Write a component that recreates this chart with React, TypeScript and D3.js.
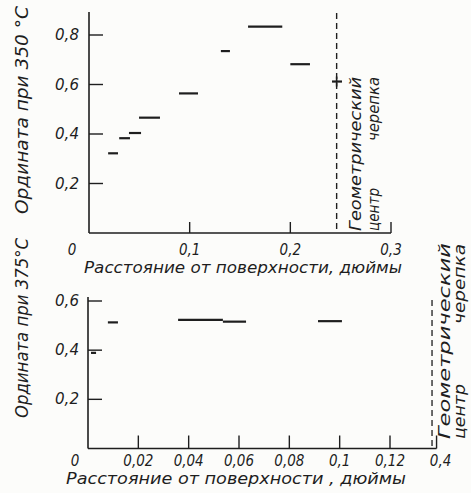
import React from "react";
import * as d3 from "d3";

// ---- Top chart (350 °C) data ----
const topStart = [0.019, 0.03, 0.0397, 0.0497, 0.0894, 0.131, 0.158, 0.2, 0.2414];
const topEnd = [0.0288, 0.0407, 0.0517, 0.0705, 0.1083, 0.14, 0.192, 0.2195, 0.2513];
const topValue = [0.322, 0.383, 0.404, 0.466, 0.564, 0.735, 0.834, 0.682, 0.612];
const topXTicks = [0.1, 0.2, 0.3];
const topXTickLabels = ["0,1", "0,2", "0,3"];
const topYTicks = [0.2, 0.4, 0.6, 0.8];
const topYTickLabels = ["0,2", "0,4", "0,6", "0,8"];
const topCenter = 0.246;

// ---- Bottom chart (375 °C) data ----
const botStart = [0.0079, 0.0012, 0.0358, 0.0536, 0.0914];
const botEnd = [0.0119, 0.0032, 0.0536, 0.0628, 0.1009];
const botValue = [0.513, 0.389, 0.523, 0.516, 0.518];
const botXTicks = [0.02, 0.04, 0.06, 0.08, 0.1, 0.12, 0.1385];
const botXTickLabels = ["0,02", "0,04", "0,06", "0,08", "0,1", "0,12", "0,4"];
const botYTicks = [0.2, 0.4, 0.6];
const botYTickLabels = ["0,2", "0,4", "0,6"];
const botCenter = 0.1367;

const yLabelTop = "Ордината при 350 °С";
const yLabelBot = "Ордината при 375°С";
const xLabelTop = "Расстояние от поверхности, дюймы";
const xLabelBot = "Расстояние от поверхности , дюймы";
const centerLine1 = "Геометрический";
const centerWord1 = "центр";
const centerWord2 = "черепка";

const FONT = "'DejaVu Sans Condensed', 'Liberation Sans Narrow', 'DejaVu Sans', sans-serif";
const INK = "#1e1e1e";

export default function App() {
  const xT = d3.scaleLinear().domain([0, 0.3]).range([89, 391]);
  const yT = d3.scaleLinear().domain([0, 0.8]).range([233, 35]);
  const xB = d3.scaleLinear().domain([0, 0.12]).range([88, 390]);
  const yB = d3.scaleLinear().domain([0, 0.6]).range([448.5, 301]);

  const txt = { fontFamily: FONT, fontStyle: "italic", fill: INK } as const;
  const fit = { lengthAdjust: "spacingAndGlyphs" } as const;

  const tY0 = yT(0);
  const bY0 = yB(0);

  return (
    <svg
      width={471}
      height={493}
      style={{ position: "absolute", left: 0, top: 0, background: "#fcfcfa" }}
    >
      {/* ===== TOP CHART ===== */}
      <g stroke={INK} fill="none">
        <line x1={xT(0)} x2={xT(0)} y1={12} y2={tY0} strokeWidth={1.6} />
        <line x1={xT(0)} x2={xT(0.3)} y1={tY0} y2={tY0} strokeWidth={1.6} />
        {topYTicks.map((t) => (
          <line key={t} x1={xT(0)} x2={xT(0) + 14} y1={yT(t)} y2={yT(t)} strokeWidth={1.4} />
        ))}
        {topXTicks.map((t) => (
          <line key={t} x1={xT(t)} x2={xT(t)} y1={tY0} y2={tY0 - 11} strokeWidth={1.4} />
        ))}
        <line
          x1={xT(topCenter)}
          x2={xT(topCenter)}
          y1={13}
          y2={tY0}
          strokeWidth={1.4}
          strokeDasharray="6,4"
        />
        <line
          x1={xT(topCenter)}
          x2={xT(topCenter)}
          y1={yT(0.612) - 5}
          y2={yT(0.612) + 5}
          strokeWidth={1.6}
        />
        {topValue.map((v, i) => (
          <line
            key={i}
            x1={xT(topStart[i])}
            x2={xT(topEnd[i])}
            y1={yT(v)}
            y2={yT(v)}
            strokeWidth={2.2}
          />
        ))}
      </g>
      <g {...txt} fontSize={15}>
        {topYTicks.map((t, i) => (
          <text key={t} x={79} y={yT(t) + 5} textAnchor="end" textLength={24} {...fit}>
            {topYTickLabels[i]}
          </text>
        ))}
        <text x={72} y={255} textAnchor="middle">0</text>
        {topXTicks.map((t, i) => (
          <text key={t} x={xT(t)} y={255} textAnchor="middle">
            {topXTickLabels[i]}
          </text>
        ))}
      </g>
      <text {...txt} fontSize={16} x={84} y={273} textLength={318} {...fit}>
        {xLabelTop}
      </text>
      <text
        {...txt}
        fontSize={17}
        transform={`translate(28, 214) rotate(-90)`}
        textLength={208}
        {...fit}
      >
        {yLabelTop}
      </text>
      <g {...txt} fontSize={16}>
        <text transform={`translate(361, 231) rotate(-90)`} textLength={154} {...fit}>
          {centerLine1}
        </text>
        <text transform={`translate(379, 231) rotate(-90)`} textLength={43} {...fit}>
          {centerWord1}
        </text>
        <text transform={`translate(379, 141) rotate(-90)`} textLength={64} {...fit}>
          {centerWord2}
        </text>
      </g>

      {/* ===== BOTTOM CHART ===== */}
      <g stroke={INK} fill="none">
        <line x1={xB(0)} x2={xB(0)} y1={297} y2={bY0} strokeWidth={1.6} />
        <line x1={xB(0)} x2={xB(0.1385)} y1={bY0} y2={bY0} strokeWidth={1.6} />
        {botYTicks.map((t) => (
          <line key={t} x1={xB(0)} x2={xB(0) + 14} y1={yB(t)} y2={yB(t)} strokeWidth={1.4} />
        ))}
        {botXTicks.map((t) => (
          <line key={t} x1={xB(t)} x2={xB(t)} y1={bY0} y2={bY0 - 13} strokeWidth={1.4} />
        ))}
        <line
          x1={xB(botCenter)}
          x2={xB(botCenter)}
          y1={300}
          y2={bY0}
          strokeWidth={1.3}
          strokeDasharray="6,4"
        />
        {botValue.map((v, i) => (
          <line
            key={i}
            x1={xB(botStart[i])}
            x2={xB(botEnd[i])}
            y1={yB(v)}
            y2={yB(v)}
            strokeWidth={2.2}
          />
        ))}
      </g>
      <g {...txt} fontSize={15}>
        {botYTicks.map((t, i) => (
          <text key={t} x={79} y={yB(t) + 5} textAnchor="end" textLength={24} {...fit}>
            {botYTickLabels[i]}
          </text>
        ))}
        <text x={75} y={466} textAnchor="middle">0</text>
        {botXTicks.map((t, i) => (
          <text key={t} x={xB(t) + (i === botXTicks.length - 1 ? 4 : 0)} y={466} textAnchor="middle">
            {botXTickLabels[i]}
          </text>
        ))}
      </g>
      <text {...txt} fontSize={16} x={66} y={484} textLength={340} {...fit}>
        {xLabelBot}
      </text>
      <text
        {...txt}
        fontSize={17}
        transform={`translate(28, 418) rotate(-90)`}
        textLength={180}
        {...fit}
      >
        {yLabelBot}
      </text>
      <g {...txt} fontSize={15}>
        <text transform={`translate(450, 439) rotate(-90)`} textLength={196} {...fit}>
          {centerLine1}
        </text>
        <text transform={`translate(465, 439) rotate(-90)`} textLength={55} {...fit}>
          {centerWord1}
        </text>
        <text transform={`translate(465, 324) rotate(-90)`} textLength={80} {...fit}>
          {centerWord2}
        </text>
      </g>
    </svg>
  );
}
